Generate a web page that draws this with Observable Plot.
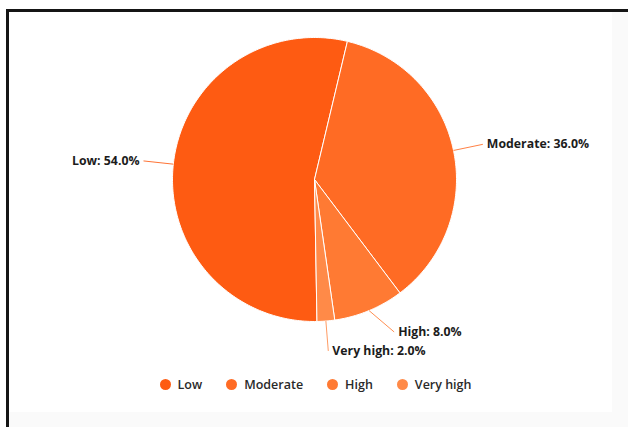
<!DOCTYPE html>
<html>
<head>
<meta charset="utf-8">
<script src="https://cdn.jsdelivr.net/npm/d3@7"></script>
<script src="https://cdn.jsdelivr.net/npm/@observablehq/plot@0.6"></script>
<style>
  html, body { margin: 0; padding: 0; background: #ffffff; width: 628px; height: 427px; overflow: hidden; }
  #frame { position: absolute; left: 6px; top: 9px; width: 622px; height: 418px; box-sizing: border-box;
           border-top: 3px solid #151515; border-left: 3px solid #151515; background: #fafafa; }
  #panel { position: absolute; left: 0; top: 0; width: 603px; height: 400px; background: #ffffff; }
  #chart { position: absolute; left: 0; top: 0; }
  #legend { position: absolute; left: 5px; width: 603px; top: 364px; display: flex; justify-content: center;
            align-items: center; font-family: "Open Sans", sans-serif; font-size: 12.5px; font-weight: 600; color: #2a2a2a; }
  .item { display: flex; align-items: center; margin: 0 12px; }
  .dot { width: 11px; height: 11px; border-radius: 50%; margin-right: 7px; }
</style>
</head>
<body>
<div id="frame">
  <div id="panel">
    <div id="chart"></div>
    <div id="legend"></div>
  </div>
</div>
<script>
const categories = ["Low", "Moderate", "High", "Very high"];
const shares = [54.0, 36.0, 8.0, 2.0];
const colors = ["#FE5B12", "#FF6B24", "#FF7A33", "#FF8A48"];

const W = 603, H = 350, R = 142, CX = 305, CY = 167;
const startDeg = -181;
const labelDist = 30 / R;     // label radius offset, in radius units
const minGap = 19 / R;        // minimum vertical gap between labels

const arcs = d3.pie().sort(null).value(d => d)
  .startAngle(startDeg * Math.PI / 180)
  .endAngle(startDeg * Math.PI / 180 + 2 * Math.PI)(shares);

// slice outlines
const slicePts = [];
arcs.forEach((a, i) => {
  slicePts.push({cat: categories[i], x: 0, y: 0});
  const n = Math.ceil((a.endAngle - a.startAngle) / (Math.PI / 180)) + 1;
  for (let k = 0; k <= n; k++) {
    const t = a.startAngle + (a.endAngle - a.startAngle) * k / n;
    slicePts.push({cat: categories[i], x: Math.sin(t), y: Math.cos(t)});
  }
  slicePts.push({cat: categories[i], x: 0, y: 0});
});

// labels
const L = 1 + labelDist;
const labels = arcs.map((a, i) => {
  const m = (a.startAngle + a.endAngle) / 2;
  return {cat: categories[i], color: colors[i], m,
    ex: Math.sin(m), ey: Math.cos(m),
    lx: L * Math.sin(m), ly: L * Math.cos(m),
    side: Math.sin(m) >= 0 ? "right" : "left",
    text: `${categories[i]}: ${shares[i].toFixed(1)}%`};
});
// simple collision avoidance per side: push upper label up
for (const side of ["right", "left"]) {
  const s = labels.filter(d => d.side === side).sort((a, b) => b.ly - a.ly);
  for (let k = s.length - 2; k >= 0; k--) {
    if (s[k].ly - s[k + 1].ly < minGap) {
      s[k].ly = s[k + 1].ly + minGap;
      const sx = Math.sqrt(Math.max(0, L * L - s[k].ly * s[k].ly));
      s[k].lx = side === "right" ? sx : -sx;
    }
  }
}

const color = {domain: categories, range: colors};
const textStyle = {fill: "#1c1c1c", fontWeight: 700, fontSize: 12.3, fontFamily: "Open Sans",
  stroke: "#ffffff", strokeWidth: 1.5, paintOrder: "stroke"};

const chart = Plot.plot({
  width: W, height: H, margin: 0,
  x: {domain: [-CX / R, (W - CX) / R], axis: null},
  y: {domain: [-(H - CY) / R, CY / R], axis: null},
  color,
  style: {background: "transparent", overflow: "visible"},
  marks: [
    Plot.line(slicePts, {x: "x", y: "y", z: "cat", fill: "cat", stroke: "#ffffff", strokeWidth: 1, strokeLinejoin: "round", curve: "linear"}),
    Plot.link(labels, {x1: "ex", y1: "ey", x2: "lx", y2: "ly", stroke: "cat", strokeWidth: 1, strokeOpacity: 0.85}),
    Plot.text(labels.filter(d => d.side === "right"), {x: "lx", y: "ly", text: "text", textAnchor: "start", dx: 4, ...textStyle}),
    Plot.text(labels.filter(d => d.side === "left"), {x: "lx", y: "ly", text: "text", textAnchor: "end", dx: -4, ...textStyle})
  ]
});
document.getElementById("chart").appendChild(chart);

const legend = document.getElementById("legend");
categories.forEach((c, i) => {
  const it = document.createElement("div");
  it.className = "item";
  const d = document.createElement("span");
  d.className = "dot";
  d.style.background = colors[i];
  const t = document.createElement("span");
  t.textContent = c;
  it.appendChild(d); it.appendChild(t);
  legend.appendChild(it);
});
</script>
</body>
</html>
